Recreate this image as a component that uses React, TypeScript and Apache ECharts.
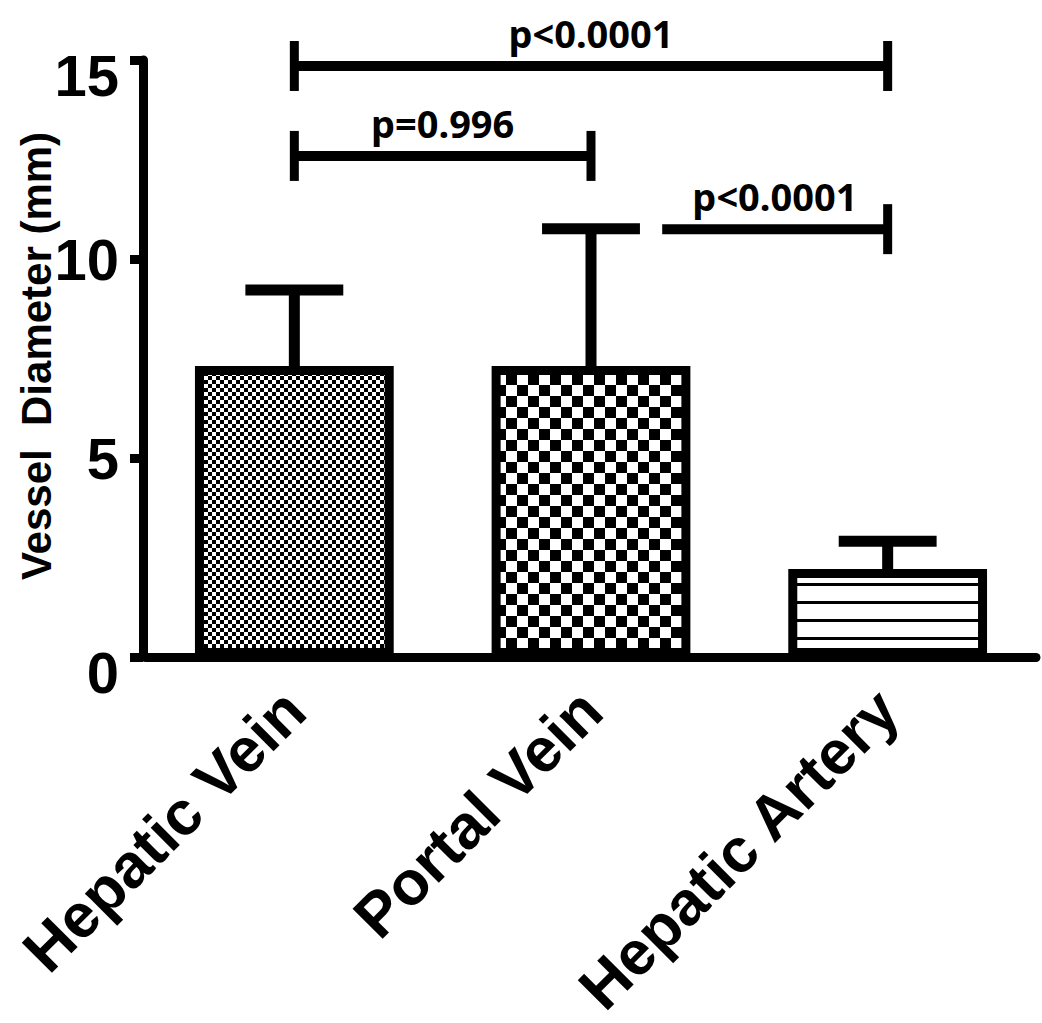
import React, { useEffect, useRef } from "react";
import * as echarts from "echarts";

const categories = ["Hepatic Vein", "Portal Vein", "Hepatic Artery"];
const means = [7.31, 7.31, 2.21];
const sds = [1.91, 3.45, 0.7];
const yTicks = [0, 5, 10, 15];
const yAxisTitle = "Vessel  Diameter (mm)";
// brackets: [startIndex, startOffset(fraction of band), endIndex, yValue, leftTick(1/0)]
const bracketRows = [
  [0, 0, 2, 14.85, 1],
  [0, 0, 1, 12.59, 1],
  [1, 0.24, 2, 10.75, 0],
];
const bracketLabels = ["p<0.0001", "p=0.996", "p<0.0001"];

function makeChecker(cell: number): string {
  const c = document.createElement("canvas");
  c.width = cell * 2;
  c.height = cell * 2;
  const ctx = c.getContext("2d")!;
  ctx.fillStyle = "#fff";
  ctx.fillRect(0, 0, cell * 2, cell * 2);
  ctx.fillStyle = "#000";
  ctx.fillRect(0, 0, cell, cell);
  ctx.fillRect(cell, cell, cell, cell);
  return c.toDataURL();
}

function makeLines(period: number, offset: number, thick: number): string {
  const c = document.createElement("canvas");
  c.width = 8;
  c.height = period;
  const ctx = c.getContext("2d")!;
  ctx.fillStyle = "#fff";
  ctx.fillRect(0, 0, 8, period);
  ctx.fillStyle = "#000";
  ctx.fillRect(0, offset, 8, thick);
  return c.toDataURL();
}

export default function App() {
  const ref = useRef<HTMLDivElement>(null);
  useEffect(() => {
    document.body.style.margin = "0";
    const chart = echarts.init(ref.current!, null, { renderer: "svg" });
    const patterns = [
      { image: makeChecker(4), repeat: "repeat" },
      { image: makeChecker(11), repeat: "repeat" },
      { image: makeLines(18, 7, 3), repeat: "repeat" },
    ];
    const numFont = "Liberation Sans";
    chart.setOption({
      animation: false,
      backgroundColor: "#fff",
      grid: { left: 146, right: 6, top: 60, bottom: 366, outerBoundsMode: "none", containLabel: false },
      graphic: [
        {
          type: "text",
          x: 36,
          y: 356,
          rotation: Math.PI / 2,
          style: {
            text: yAxisTitle,
            align: "center",
            verticalAlign: "middle",
            fill: "#000",
            font: `bold 42px "${numFont}"`,
          },
        },
      ],
      xAxis: {
        type: "category",
        data: categories,
        axisLine: { lineStyle: { color: "#000", width: 9 } },
        axisTick: { alignWithLabel: true, length: 16, lineStyle: { color: "#000", width: 9 } },
        axisLabel: {
          rotate: 45,
          margin: 43,
          color: "#000",
          fontFamily: numFont,
          fontWeight: "bold",
          fontSize: 62,
          interval: 0,
        },
      },
      yAxis: {
        type: "value",
        min: 0,
        max: 15,
        interval: 5,
        offset: 3,
        splitLine: { show: false },
        axisLine: { show: true, lineStyle: { color: "#000", width: 9 } },
        axisTick: { show: true, length: 13, lineStyle: { color: "#000", width: 9 } },
        axisLabel: {
          margin: 24,
          color: "#000",
          fontFamily: numFont,
          fontWeight: "bold",
          fontSize: 58,
          formatter: (v: number) =>
            yTicks.indexOf(v) >= 0 && (v === 15 || v === 0) ? `{s|${v}}` : `{n|${v}}`,
          rich: {
            s: { fontFamily: numFont, fontWeight: "bold", fontSize: 58, color: "#000", padding: [30, 0, 0, 0] },
            n: { fontFamily: numFont, fontWeight: "bold", fontSize: 58, color: "#000" },
          },
        },
      },
      series: [
        {
          type: "bar",
          barWidth: "67%",
          data: means.map((m, i) => ({
            value: m,
            itemStyle: { color: patterns[i], borderColor: "#000", borderWidth: 9 },
          })),
          z: 2,
        },
        {
          type: "custom",
          z: 3,
          clip: false,
          data: means.map((m, i) => [i, m, sds[i]]),
          encode: { x: 0, y: 1 },
          renderItem: (params: any, api: any) => {
            const i = api.value(0);
            const m = api.value(1);
            const s = api.value(2);
            const base = api.coord([i, m]);
            const top = api.coord([i, m + s]);
            const band = api.size([1, 0])[0];
            const half = band * 0.165;
            const st = { stroke: "#000", lineWidth: 11 };
            return {
              type: "group",
              children: [
                { type: "line", shape: { x1: base[0], y1: base[1], x2: top[0], y2: top[1] }, style: st },
                { type: "line", shape: { x1: top[0] - half, y1: top[1], x2: top[0] + half, y2: top[1] }, style: st },
              ],
            };
          },
        },
        {
          type: "custom",
          z: 4,
          clip: false,
          data: bracketRows.map((r, k) => [...r, k]),
          encode: { x: 0, y: 3 },
          renderItem: (params: any, api: any) => {
            const si = api.value(0);
            const so = api.value(1);
            const ei = api.value(2);
            const y = api.value(3);
            const lt = api.value(4);
            const k = api.value(5);
            const band = api.size([1, 0])[0];
            const p1 = api.coord([si, y]);
            const p2 = api.coord([ei, y]);
            const x1 = p1[0] + so * band;
            const x2 = p2[0];
            const yy = p1[1];
            const st = { stroke: "#000", lineWidth: 10 };
            const children: any[] = [
              { type: "line", shape: { x1, y1: yy, x2, y2: yy }, style: st },
              { type: "line", shape: { x1: x2, y1: yy - 25, x2: x2, y2: yy + 25 }, style: { stroke: "#000", lineWidth: 9 } },
            ];
            if (lt) {
              children.push({ type: "line", shape: { x1, y1: yy - 25, x2: x1, y2: yy + 25 }, style: { stroke: "#000", lineWidth: 9 } });
            }
            children.push({
              type: "text",
              style: {
                text: bracketLabels[k],
                x: (x1 + x2) / 2,
                y: yy - 33,
                align: "center",
                verticalAlign: "middle",
                fill: "#000",
                font: 'bold 38px "Noto Sans"',
              },
            });
            return { type: "group", children };
          },
        },
      ],
    });
    return () => chart.dispose();
  }, []);
  return <div ref={ref} style={{ width: 1042, height: 1023 }} />;
}
